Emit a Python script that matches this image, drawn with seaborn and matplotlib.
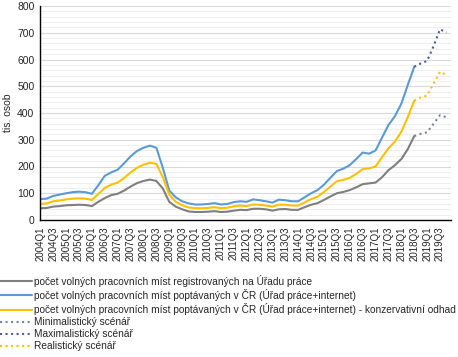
import numpy as np
import pandas as pd
import matplotlib
matplotlib.use("Agg")
import matplotlib.pyplot as plt
from matplotlib.ticker import MultipleLocator
import seaborn as sns

# quarters 2004Q1 .. 2019Q4
quarters = [f"{y}Q{q}" for y in range(2004, 2020) for q in range(1, 5)]

# history 2004Q1 .. 2018Q3 (tis. osob)
registrovane = [44, 45, 50, 52, 55, 56, 57, 56, 52, 68,
                82, 93, 98, 110, 125, 138, 146, 151, 146, 118,
                68, 50, 40, 32, 30, 30, 31, 33, 30, 31,
                35, 38, 37, 42, 42, 40, 35, 40, 41, 38,
                38, 48, 57, 63, 75, 88, 100, 105, 112, 122,
                134, 137, 140, 160, 186, 205, 228, 265, 314]
poptavane = [78, 80, 90, 95, 100, 104, 106, 104, 98, 130,
             165, 178, 188, 212, 238, 258, 270, 278, 270, 195,
             110, 85, 70, 62, 58, 58, 60, 63, 58, 60,
             67, 70, 68, 77, 74, 70, 65, 76, 74, 70,
             70, 85, 100, 112, 132, 158, 183, 192, 205, 228,
             252, 248, 260, 308, 355, 388, 435, 505, 573]
konzervativni = [60, 62, 70, 73, 77, 80, 81, 80, 75, 97,
                 120, 132, 140, 157, 178, 195, 207, 214, 210, 160,
                 95, 68, 55, 47, 44, 44, 45, 48, 44, 46,
                 51, 54, 52, 58, 57, 54, 50, 57, 57, 54,
                 54, 66, 78, 87, 105, 125, 145, 150, 158, 172,
                 190, 193, 200, 235, 268, 293, 330, 385, 446]

# scenarios 2018Q3 .. 2019Q4
min_scenar = [314, 322, 328, 360, 392, 384]
max_scenar = [573, 585, 595, 650, 713, 701]
real_scenar = [446, 458, 465, 510, 554, 542]

labels = [
    "počet volných pracovních míst registrovaných na Úřadu práce",
    "počet volných pracovních míst poptávaných v ČR (Úřad práce+internet)",
    "počet volných pracovních míst poptávaných v ČR (Úřad práce+internet) - konzervativní odhad",
    "Minimalistický scénář",
    "Maximalistický scénář",
    "Realistický scénář",
]

sns.set_style("white")
plt.rcParams['font.family'] = ['Liberation Sans', 'DejaVu Sans']

fig = plt.figure(figsize=(4.58, 3.57), dpi=100)
ax = fig.add_axes([40/458, 1-220/357, 411/458, 214/357])

x_hist = np.arange(len(registrovane))
x_sc = np.arange(len(registrovane) - 1, len(registrovane) - 1 + len(min_scenar))

sns.lineplot(x=x_hist, y=registrovane, color="#7f7f7f", linewidth=1.5, ax=ax, label=labels[0])
sns.lineplot(x=x_hist, y=poptavane, color="#5b9bd5", linewidth=1.5, ax=ax, label=labels[1])
sns.lineplot(x=x_hist, y=konzervativni, color="#ffc000", linewidth=1.5, ax=ax, label=labels[2])
sns.lineplot(x=x_sc, y=min_scenar, color="#7b849a", linewidth=1.5, linestyle=":", ax=ax, label=labels[3])
sns.lineplot(x=x_sc, y=max_scenar, color="#4a5f94", linewidth=1.5, linestyle=":", ax=ax, label=labels[4])
sns.lineplot(x=x_sc, y=real_scenar, color="#ffc000", linewidth=1.5, linestyle=":", ax=ax, label=labels[5])

ax.set_xlim(-0.05, 63.7)
ax.set_ylim(0, 800)
ax.yaxis.set_major_locator(MultipleLocator(100))
ax.yaxis.set_minor_locator(MultipleLocator(20))
ax.grid(axis="y", which="major", color="#d9d9d9", linewidth=0.8)
ax.grid(axis="y", which="minor", color="#ececec", linewidth=0.6)
ax.set_axisbelow(True)

ax.set_xticks(range(0, len(quarters), 2))
ax.set_xticklabels(quarters[::2], rotation=90, fontsize=7)
ax.set_xticks(range(len(quarters)), minor=True)
ax.tick_params(axis="x", which="both", direction="out", length=3, width=0.8, color="black", pad=1.5)
ax.tick_params(axis="y", which="major", direction="out", length=3, width=0.8, color="black", labelsize=7.5, pad=1)
ax.tick_params(axis="y", which="minor", length=0)

for s in ["top", "right"]:
    ax.spines[s].set_visible(False)
for s in ["left", "bottom"]:
    ax.spines[s].set_color("black")
    ax.spines[s].set_linewidth(1)

ax.set_xlabel("")
ax.set_ylabel("tis. osob", fontsize=7.5, labelpad=3)

handles, labs = ax.get_legend_handles_labels()
ax.get_legend().remove()
fig.legend(handles, labs, loc="upper left", bbox_to_anchor=(0.0, 1-275/357),
           frameon=False, fontsize=7.25, handlelength=3.2, handletextpad=0.2,
           labelspacing=0.2, borderaxespad=0, borderpad=0)

fig.savefig("out.png", dpi=100)
